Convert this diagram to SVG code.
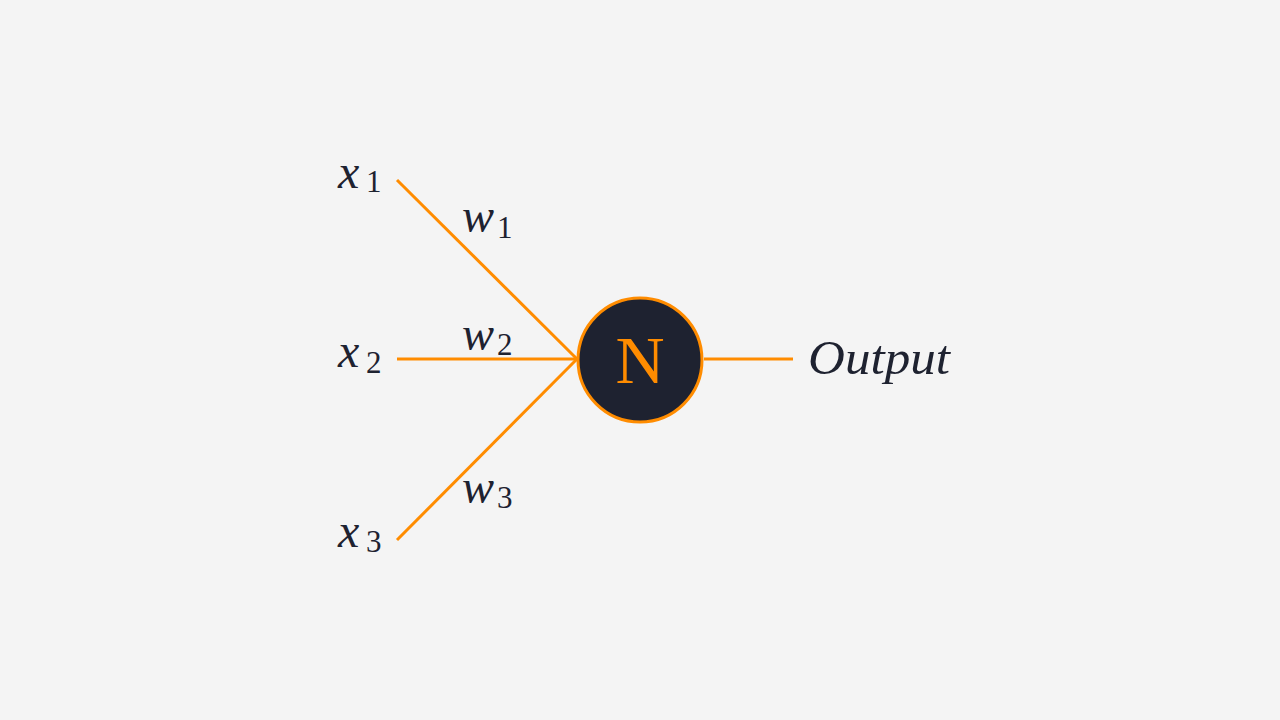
<svg xmlns="http://www.w3.org/2000/svg" width="1280" height="720" viewBox="0 0 1280 720">
<style>
.var{font-family:"Liberation Serif","DejaVu Serif",serif;font-style:italic;font-size:48px;fill:#1e2230}
.sub{font-family:"Liberation Serif","DejaVu Serif",serif;font-style:normal;font-size:31px;fill:#1e2230}
.edge{stroke:#ff8c00;stroke-width:3;fill:none}
</style>
<rect width="1280" height="720" fill="#f4f4f4"/>
<g id="connectors">
<line class="edge" x1="397" y1="180" x2="577" y2="359"/>
<line class="edge" x1="397" y1="359" x2="577" y2="359"/>
<line class="edge" x1="397" y1="540" x2="577" y2="359"/>
<line class="edge" x1="704" y1="359" x2="793" y2="359"/>
</g>
<g id="x1"><text class="var" x="338" y="188" textLength="24">x</text><text class="sub" x="366" y="192">1</text></g>
<g id="x2"><text class="var" x="338" y="367" textLength="24">x</text><text class="sub" x="366" y="373">2</text></g>
<g id="x3"><text class="var" x="338" y="547" textLength="24">x</text><text class="sub" x="366" y="552">3</text></g>
<g id="w1"><text class="var" x="462" y="232" textLength="35">w</text><text class="sub" x="497" y="238">1</text></g>
<g id="w2"><text class="var" x="462" y="350" textLength="35">w</text><text class="sub" x="497" y="355">2</text></g>
<g id="w3"><text class="var" x="462" y="503" textLength="35">w</text><text class="sub" x="497" y="508">3</text></g>
<g id="neuron">
<circle cx="640" cy="360" r="62" fill="#1e2230" stroke="#ff8c00" stroke-width="3"/>
<text x="640" y="383" text-anchor="middle" font-family="Liberation Serif, DejaVu Serif, serif" font-size="68" fill="#ff8c00">N</text>
</g>
<g id="output"><text class="var" x="808" y="374" textLength="142" lengthAdjust="spacingAndGlyphs">Output</text></g>
</svg>
